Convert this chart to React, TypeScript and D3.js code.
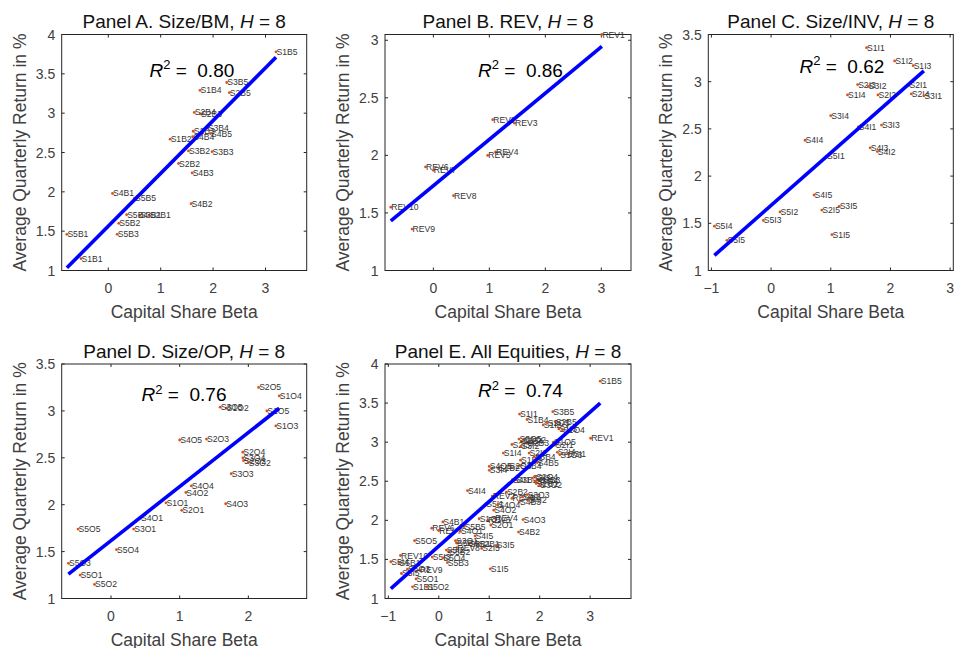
import React from 'react';
import * as d3 from 'd3';

// ---------- Data ----------
// Panel A: Size/BM
const bmLabels = ['S1B1','S1B2','S1B3','S1B4','S1B5','S2B1','S2B2','S2B3','S2B4','S2B5','S3B1','S3B2','S3B3','S3B4','S3B5','S4B1','S4B2','S4B3','S4B4','S4B5','S5B1','S5B2','S5B3','S5B4','S5B5'];
const bmBeta = [-0.52,1.18,1.62,1.75,3.20,0.78,1.34,1.76,1.64,2.31,0.60,1.53,1.98,1.89,2.26,0.08,1.58,1.60,1.61,1.95,-0.79,0.20,0.17,0.35,0.50];
const bmRet = [1.15,2.67,2.77,3.29,3.78,1.70,2.36,2.99,3.01,3.26,1.70,2.52,2.51,2.81,3.39,1.98,1.85,2.24,2.70,2.74,1.46,1.60,1.46,1.71,1.92];

// Panel B: REV
const revLabels = ['REV1','REV2','REV3','REV4','REV5','REV6','REV7','REV8','REV9','REV10'];
const revBeta = [3.01,1.06,1.45,1.11,0.97,-0.14,0.00,0.36,-0.38,-0.76];
const revRet = [3.05,2.31,2.28,2.03,2.00,1.90,1.87,1.65,1.36,1.55];

// Panel C: Size/INV
const invLabels = ['S1I1','S1I2','S1I3','S1I4','S1I5','S2I1','S2I2','S2I3','S2I4','S2I5','S3I1','S3I2','S3I3','S3I4','S3I5','S4I1','S4I2','S4I3','S4I4','S4I5','S5I1','S5I2','S5I3','S5I4','S5I5'];
const invBeta = [1.60,2.07,2.38,1.28,1.02,2.31,1.79,1.45,2.35,0.85,2.56,1.63,1.85,1.00,1.14,1.46,1.78,1.66,0.57,0.72,0.93,0.15,-0.13,-0.95,-0.74];
const invRet = [3.36,3.22,3.17,2.86,1.38,2.96,2.86,2.97,2.87,1.64,2.85,2.95,2.54,2.64,1.68,2.52,2.26,2.30,2.38,1.80,2.21,1.62,1.53,1.47,1.32];

// Panel D: Size/OP
const opLabels = ['S1O1','S1O2','S1O3','S1O4','S1O5','S2O1','S2O2','S2O3','S2O4','S2O5','S3O1','S3O2','S3O3','S3O4','S3O5','S4O1','S4O2','S4O3','S4O4','S4O5','S5O1','S5O2','S5O3','S5O4','S5O5'];
const opBeta = [0.80,1.68,2.40,2.45,2.27,1.03,1.93,1.39,1.92,2.15,0.33,2.00,1.75,1.92,1.59,0.43,1.09,1.67,1.17,1.00,-0.45,-0.24,-0.62,0.08,-0.48];
const opRet = [2.02,3.03,2.84,3.16,3.00,1.94,2.47,2.70,2.56,3.25,1.74,2.45,2.33,2.50,3.04,1.86,2.13,2.01,2.20,2.69,1.25,1.15,1.375,1.52,1.74];

// Fitted lines (intercept, slope) and R² per panel A..E
const fitIntercepts = [1.564, 1.736, 1.689, 1.617, 1.67];
const fitSlopes = [0.671, 0.402, 0.557, 0.576, 0.572];
const r2Values = ['0.80', '0.86', '0.62', '0.76', '0.74'];
const panelTitles = ['Panel A. Size/BM, ', 'Panel B. REV, ', 'Panel C. Size/INV, ', 'Panel D. Size/OP, ', 'Panel E. All Equities, '];

const xTicksA = [0, 1, 2, 3];
const xTicksC = [-1, 0, 1, 2, 3];
const xTicksD = [0, 1, 2];
const yTicks4 = [1, 1.5, 2, 2.5, 3, 3.5, 4];
const yTicks3 = [1, 1.5, 2, 2.5, 3];
const yTicks35 = [1, 1.5, 2, 2.5, 3, 3.5];

// ---------- Helpers ----------
type Pt = { label: string; x: number; y: number };
const zip = (l: string[], x: number[], y: number[]): Pt[] => l.map((s, i) => ({ label: s, x: x[i], y: y[i] }));

const ptsA = zip(bmLabels, bmBeta, bmRet);
const ptsB = zip(revLabels, revBeta, revRet);
const ptsC = zip(invLabels, invBeta, invRet);
const ptsD = zip(opLabels, opBeta, opRet);
const ptsE = [...ptsA, ...ptsB, ...ptsC, ...ptsD];

const FONT = '"Liberation Sans", Arial, Helvetica, sans-serif';
const AX = '#262626';
const TXT = '#404040';

type Box = { left: number; right: number; top: number; bottom: number };

function fmt(v: number) {
  const s = String(v);
  return v < 0 ? '\u2212' + s.slice(1) : s;
}

function Panel(props: {
  box: Box; xDomain: [number, number]; yDomain: [number, number];
  xTicks: number[]; yTicks: number[]; idx: number; pts: Pt[];
  r2x: number; r2y: number;
}) {
  const { box, xDomain, yDomain, xTicks, yTicks, idx, pts, r2x, r2y } = props;
  const x = d3.scaleLinear().domain(xDomain).range([box.left, box.right]);
  const y = d3.scaleLinear().domain(yDomain).range([box.bottom, box.top]);
  const xs = pts.map(p => p.x);
  const x0 = d3.min(xs)!;
  const x1 = d3.max(xs)!;
  const f = (v: number) => fitIntercepts[idx] + fitSlopes[idx] * v;
  const line = d3.line<number>().x(v => x(v)).y(v => y(f(v)));
  const tl = 3;
  const cx = (box.left + box.right) / 2;
  const cy = (box.top + box.bottom) / 2;
  return (
    <g fontFamily={FONT}>
      {/* title */}
      <text x={cx} y={box.top - 6.5} textAnchor="middle" fontSize={19} fill="#111" style={{ whiteSpace: 'pre' }}>
        {panelTitles[idx]}<tspan fontStyle="italic">H</tspan>{' = 8'}
      </text>
      {/* axes box */}
      <rect x={box.left} y={box.top} width={box.right - box.left} height={box.bottom - box.top} fill="#fff" stroke={AX} strokeWidth={1} />
      {xTicks.map(t => (
        <g key={'xt' + t}>
          <line x1={x(t)} x2={x(t)} y1={box.bottom} y2={box.bottom - tl} stroke={AX} />
          <line x1={x(t)} x2={x(t)} y1={box.top} y2={box.top + tl} stroke={AX} />
          <text x={x(t)} y={box.bottom + 22.5} textAnchor="middle" fontSize={14} fill={TXT}>{fmt(t)}</text>
        </g>
      ))}
      {yTicks.map(t => (
        <g key={'yt' + t}>
          <line x1={box.left} x2={box.left + tl} y1={y(t)} y2={y(t)} stroke={AX} />
          <line x1={box.right} x2={box.right - tl} y1={y(t)} y2={y(t)} stroke={AX} />
          <text x={box.left - 6.5} y={y(t)} dy="0.36em" textAnchor="end" fontSize={14} fill={TXT}>{fmt(t)}</text>
        </g>
      ))}
      <text x={cx} y={box.bottom + 47} textAnchor="middle" fontSize={17.5} fill={TXT}>Capital Share Beta</text>
      <text transform={`translate(${box.left - 36},${cy}) rotate(-90)`} textAnchor="middle" fontSize={17.5} fill={TXT}>Average Quarterly Return in %</text>
      {/* points */}
      {pts.map((p, i) => (
        <g key={'p' + i}>
          <circle cx={x(p.x)} cy={y(p.y)} r={1.4} fill="#D95319" />
          <text x={x(p.x) + 0.5} y={y(p.y)} dy="0.35em" fontSize={8.6} fill="#333">{p.label}</text>
        </g>
      ))}
      {/* fitted line */}
      <path d={line([x0, x1]) || ''} stroke="#0000FF" strokeWidth={3.6} fill="none" />
      {/* R² */}
      <text x={box.left + r2x * (box.right - box.left)} y={r2y} fontSize={19} fill="#000" style={{ whiteSpace: 'pre' }}>
        <tspan fontStyle="italic">R</tspan>
        <tspan dy={-7.5} fontSize={13}>2</tspan>
        <tspan dy={7.5}>{' =  ' + r2Values[idx]}</tspan>
      </text>
    </g>
  );
}

export default function App() {
  const topRow = { top: 34.5, bottom: 270.5 };
  const botRow = { top: 364, bottom: 598.5 };
  const colA = { left: 61.7, right: 306.7 };
  const colB = { left: 385, right: 631 };
  const colC = { left: 708.3, right: 953.3 };
  return (
    <svg width={955} height={648} style={{ position: 'absolute', left: 0, top: 0, background: '#fff' }}>
      <rect x={0} y={0} width={955} height={648} fill="#fff" />
      <Panel box={{ ...colA, ...topRow }} xDomain={[-0.889, 3.786]} yDomain={[1, 4]} xTicks={xTicksA} yTicks={yTicks4} idx={0} pts={ptsA} r2x={0.358} r2y={76.5} />
      <Panel box={{ ...colB, ...topRow }} xDomain={[-0.864, 3.53]} yDomain={[1, 3.05]} xTicks={xTicksA} yTicks={yTicks3} idx={1} pts={ptsB} r2x={0.378} r2y={76.5} />
      <Panel box={{ ...colC, ...topRow }} xDomain={[-1.052, 3.053]} yDomain={[1, 3.5]} xTicks={xTicksC} yTicks={yTicks35} idx={2} pts={ptsC} r2x={0.372} r2y={72.5} />
      <Panel box={{ ...colA, ...botRow }} xDomain={[-0.718, 2.85]} yDomain={[1, 3.5]} xTicks={xTicksD} yTicks={yTicks35} idx={3} pts={ptsD} r2x={0.326} r2y={401} />
      <Panel box={{ ...colB, ...botRow }} xDomain={[-1.066, 3.81]} yDomain={[1, 4]} xTicks={xTicksC} yTicks={yTicks4} idx={4} pts={ptsE} r2x={0.378} r2y={397} />
    </svg>
  );
}
